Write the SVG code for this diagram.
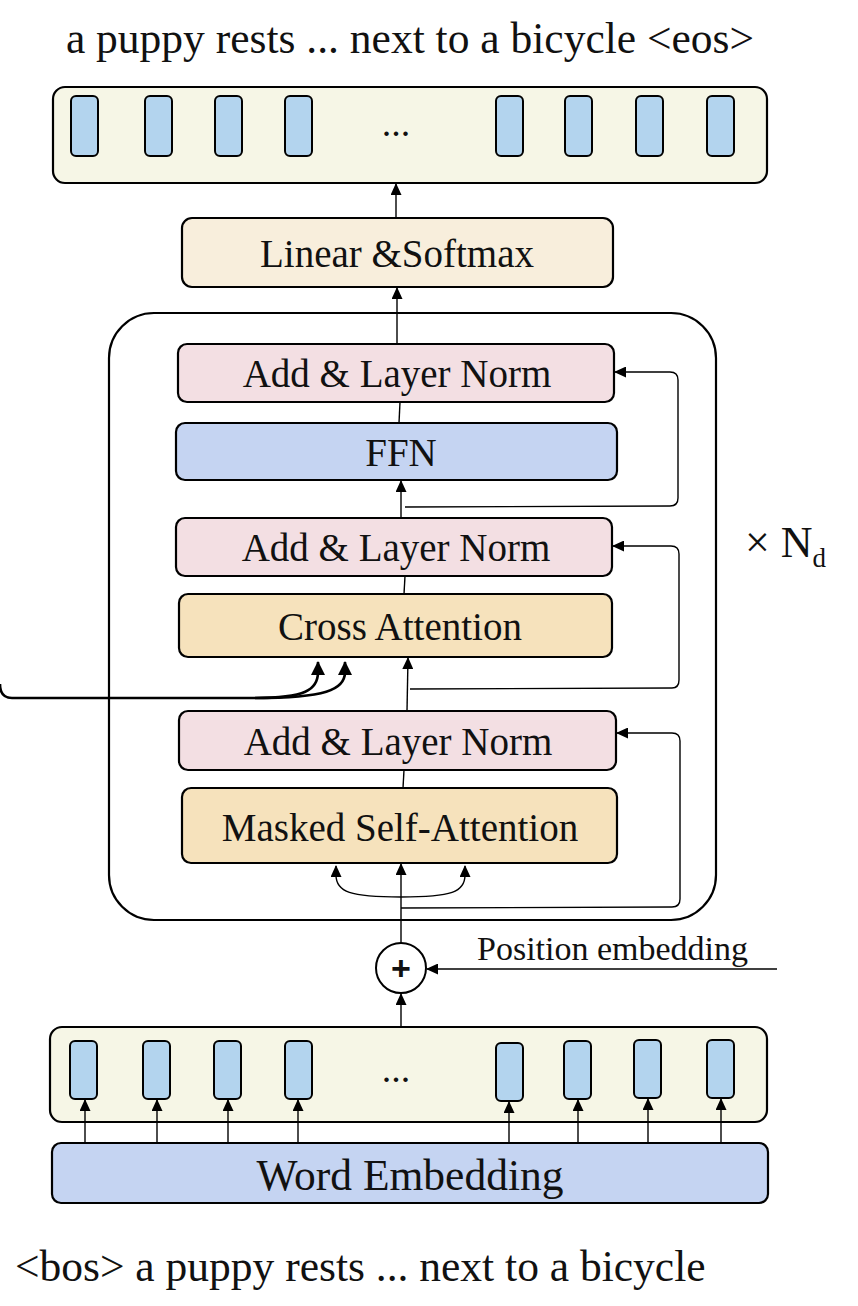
<svg xmlns="http://www.w3.org/2000/svg" width="858" height="1306" viewBox="0 0 858 1306">
<defs>
<marker id="ah" markerWidth="12" markerHeight="11" refX="11" refY="5.5" orient="auto" markerUnits="userSpaceOnUse" viewBox="0 0 12 11">
<path d="M0,0 L12,5.5 L0,11 z" fill="#000"/>
</marker>
<marker id="ahb" markerWidth="14" markerHeight="14" refX="13" refY="7" orient="auto" markerUnits="userSpaceOnUse" viewBox="0 0 14 14">
<path d="M0,0 L14,7 L0,14 z" fill="#000"/>
</marker>
</defs>
<style>
text{font-family:"Liberation Serif","Times New Roman",serif;fill:#111;}
.box{stroke:#000;stroke-width:2.2;}
.seq{fill:#f6f6e6;}
.tok{fill:#b3d4ee;stroke:#000;stroke-width:2;}
.lin{fill:#f8eedc;}
.norm{fill:#f3dfe3;}
.ffn{fill:#c5d4f2;}
.att{fill:#f6e2bc;}
.c{stroke:#000;stroke-width:1.4;fill:none;}
.ct{stroke:#000;stroke-width:2.6;fill:none;}
.lbl{font-size:39px;text-anchor:middle;}
</style>

<text x="410" y="53" font-size="43.5" text-anchor="middle">a puppy rests ... next to a bicycle &lt;eos&gt;</text>

<g id="output-seq">
<rect class="box seq" x="53" y="87" width="714" height="96" rx="12"/>
<rect class="tok" x="71" y="96" width="27" height="60" rx="5"/>
<rect class="tok" x="145" y="96" width="27" height="60" rx="5"/>
<rect class="tok" x="215" y="96" width="27" height="60" rx="5"/>
<rect class="tok" x="285" y="96" width="27" height="60" rx="5"/>
<rect class="tok" x="496" y="96" width="27" height="60" rx="5"/>
<rect class="tok" x="565" y="96" width="27" height="60" rx="5"/>
<rect class="tok" x="636" y="96" width="27" height="60" rx="5"/>
<rect class="tok" x="707" y="96" width="27" height="60" rx="5"/>
<text x="396" y="136" font-size="38" text-anchor="middle">...</text>
</g>

<g id="linear-softmax">
<rect class="box lin" x="182" y="218" width="431" height="69" rx="10"/>
<text class="lbl" x="397" y="267">Linear &amp;Softmax</text>
</g>

<g id="decoder-block">
<rect class="box" fill="none" x="109" y="313" width="607" height="607" rx="45"/>
</g>

<g id="norm1">
<rect class="box norm" x="178" y="344" width="436" height="58" rx="9"/>
<text class="lbl" x="397" y="387">Add &amp; Layer Norm</text>
</g>
<g id="ffn">
<rect class="box ffn" x="176" y="423" width="441" height="57" rx="9"/>
<text class="lbl" x="401" y="466">FFN</text>
</g>
<g id="norm2">
<rect class="box norm" x="176" y="518" width="436" height="58" rx="9"/>
<text class="lbl" x="396" y="561">Add &amp; Layer Norm</text>
</g>
<g id="cross-attention">
<rect class="box att" x="179" y="594" width="433" height="63" rx="9"/>
<text class="lbl" x="400" y="640">Cross Attention</text>
</g>
<g id="norm3">
<rect class="box norm" x="179" y="711" width="437" height="59" rx="9"/>
<text class="lbl" x="398" y="755">Add &amp; Layer Norm</text>
</g>
<g id="masked-self-attention">
<rect class="box att" x="182" y="788" width="435" height="75" rx="9"/>
<text class="lbl" x="400" y="841">Masked Self-Attention</text>
</g>

<g id="plus">
<circle cx="401" cy="968" r="25" fill="#fff" stroke="#000" stroke-width="2"/>
<text x="401" y="980" font-size="34" font-weight="bold" text-anchor="middle" style="font-family:'Liberation Sans',Arial,sans-serif">+</text>
</g>

<g id="position-label">
<text x="477" y="960" font-size="34">Position embedding</text>
</g>

<g id="repeat-label">
<text x="745" y="557" font-size="44">× N<tspan font-size="27" dy="10">d</tspan></text>
</g>

<g id="input-seq">
<rect class="box seq" x="50" y="1027" width="717" height="95" rx="12"/>
<rect class="tok" x="70" y="1041" width="27" height="58" rx="5"/>
<rect class="tok" x="143" y="1041" width="27" height="58" rx="5"/>
<rect class="tok" x="214" y="1041" width="27" height="58" rx="5"/>
<rect class="tok" x="285" y="1041" width="27" height="58" rx="5"/>
<rect class="tok" x="496" y="1043" width="27" height="58" rx="5"/>
<rect class="tok" x="564" y="1041" width="27" height="58" rx="5"/>
<rect class="tok" x="634" y="1040" width="27" height="58" rx="5"/>
<rect class="tok" x="707" y="1040" width="27" height="58" rx="5"/>
<text x="396" y="1082" font-size="38" text-anchor="middle">...</text>
</g>

<g id="word-embedding">
<rect class="box ffn" x="52" y="1143" width="716" height="60" rx="9"/>
<text x="410" y="1190" font-size="43.5" text-anchor="middle">Word Embedding</text>
</g>

<text x="15" y="1281" font-size="43.5">&lt;bos&gt; a puppy rests ... next to a bicycle</text>

<g id="connectors">
<line class="c" x1="396" y1="217" x2="396" y2="184" marker-end="url(#ah)"/>
<line class="c" x1="397" y1="344" x2="397" y2="288" marker-end="url(#ah)"/>
<line class="c" x1="399" y1="423" x2="400" y2="402"/>
<line class="c" x1="401" y1="518" x2="401" y2="481" marker-end="url(#ah)"/>
<line class="c" x1="404" y1="594" x2="405" y2="576"/>
<line class="c" x1="407" y1="711" x2="408" y2="658" marker-end="url(#ah)"/>
<line class="c" x1="403" y1="788" x2="404" y2="770"/>
<line class="c" x1="401" y1="943" x2="401" y2="864" marker-end="url(#ah)"/>
<path class="c" d="M401,897 C350,897 336,892 336,875 L336,866" marker-end="url(#ah)"/>
<path class="c" d="M401,897 C452,897 465,892 465,875 L465,866" marker-end="url(#ah)"/>
<line class="c" x1="401" y1="1026" x2="401" y2="994" marker-end="url(#ah)"/>
<line class="c" x1="777" y1="969" x2="427" y2="969" marker-end="url(#ah)"/>
<path class="c" d="M405,507 L670,506 Q678,506 678,498 L678,380 Q678,372 670,372 L615,372" marker-end="url(#ah)"/>
<path class="c" d="M410,689 L672,688 Q679,688 679,680 L679,554 Q679,546 671,546 L613,546" marker-end="url(#ah)"/>
<path class="c" d="M401,908 L672,907 Q680,907 680,899 L680,741 Q680,733 672,733 L617,733" marker-end="url(#ah)"/>
<path class="ct" d="M0,684 Q0,698 12,698 L255,698 C305,698 318,690 318,672 L318,662" marker-end="url(#ahb)"/>
<path class="ct" d="M255,698 C325,698 345,690 345,672 L345,662" marker-end="url(#ahb)"/>
<line class="c" x1="85" y1="1143" x2="85" y2="1100" marker-end="url(#ah)"/>
<line class="c" x1="157" y1="1143" x2="157" y2="1100" marker-end="url(#ah)"/>
<line class="c" x1="228" y1="1143" x2="228" y2="1100" marker-end="url(#ah)"/>
<line class="c" x1="298" y1="1143" x2="298" y2="1100" marker-end="url(#ah)"/>
<line class="c" x1="509" y1="1143" x2="509" y2="1102" marker-end="url(#ah)"/>
<line class="c" x1="578" y1="1143" x2="578" y2="1100" marker-end="url(#ah)"/>
<line class="c" x1="648" y1="1143" x2="648" y2="1099" marker-end="url(#ah)"/>
<line class="c" x1="721" y1="1143" x2="721" y2="1099" marker-end="url(#ah)"/>
</g>
</svg>
